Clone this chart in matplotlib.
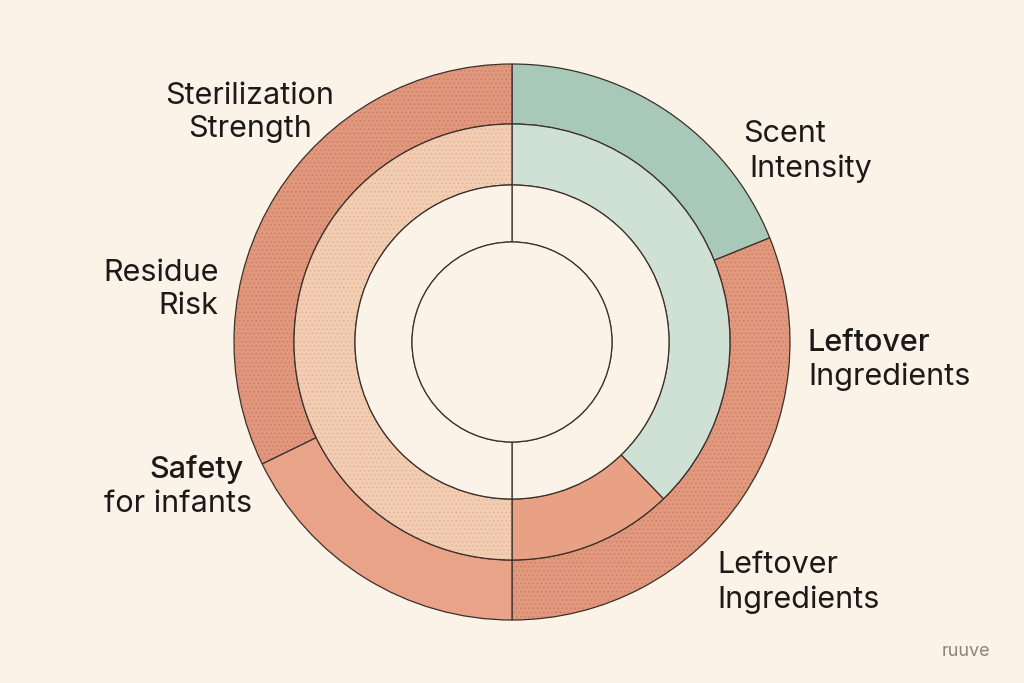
import matplotlib
matplotlib.use("Agg")
import matplotlib.pyplot as plt
from matplotlib.patches import Circle

# ---------------- data ----------------
outer_values = [68, 112, 64, 116]          # degrees, clockwise from 12 o'clock
outer_names = ["Scent Intensity", "Leftover Ingredients", "Safety for infants", "Sterilization Strength"]
middle_values = [136, 44, 180]
middle_names = ["Scent Intensity", "Leftover Ingredients", "Residue Risk"]
inner_values = [180, 180]

label_lines = ["Sterilization", "Strength", "Scent", "Intensity",
               "Residue", "Risk", "Leftover", "Ingredients",
               "Safety", "for infants", "Leftover", "Ingredients"]
label_weights = ["normal", "normal", "normal", "normal",
                 "normal", "normal", "medium", "normal",
                 "medium", "normal", "normal", "normal"]
watermark = "ruuve"

# ---------------- style / layout ----------------
BG = "#FBF3E8"
EDGE = "#3b302b"
outer_colors = ["#A8C8B8", "#E1987D", "#E9A388", "#E0977C"]
outer_stipple = [False, True, False, True]
middle_colors = ["#CFE1D5", "#E9A186", "#F2CDB2"]
middle_stipple = [False, False, True]

W, H = 1024, 683
cx, cy = 512, H - 342
R_out, R_mid, R_in, R_core = 278, 218, 157, 100

# (x_left, y_center) in pixel coords from top
label_pos = [(165, 96), (188, 129), (743, 134), (749, 169),
             (103, 273), (158, 306), (808, 343), (808, 377),
             (149, 469), (104, 504), (717, 565), (717, 600)]

plt.rcParams['font.family'] = ['Inter', 'DejaVu Sans']
plt.rcParams['hatch.linewidth'] = 0.5

fig = plt.figure(figsize=(W / 100, H / 100), dpi=100, facecolor=BG)
ax = fig.add_axes([0, 0, 1, 1])
ax.set_facecolor(BG)

def ring(values, colors, radius, width, stipple=None, stipple_color="#9a4a35"):
    wedges, _ = ax.pie(values, colors=colors, radius=radius, center=(cx, cy),
                       startangle=90, counterclock=False, frame=True,
                       wedgeprops=dict(width=width, edgecolor=EDGE, linewidth=0.9))
    if stipple is not None:
        sw, _ = ax.pie(values, colors=["none"] * len(values), radius=radius, center=(cx, cy),
                       startangle=90, counterclock=False, frame=True,
                       wedgeprops=dict(width=width, linewidth=0))
        for w, s in zip(sw, stipple):
            if s:
                w.set_hatch('....')
                w.set_edgecolor(stipple_color)
                w.set_alpha(0.22)
            else:
                w.set_visible(False)
    return wedges

ring(outer_values, outer_colors, R_out, R_out - R_mid, outer_stipple, "#7a3522")
ring(middle_values, middle_colors, R_mid, R_mid - R_in, middle_stipple, "#a86848")
ring(inner_values, [BG, BG], R_in, R_in - R_core)
ax.add_patch(Circle((cx, cy), R_core, facecolor=BG, edgecolor=EDGE, linewidth=0.9, zorder=5))

ax.set_xlim(0, W)
ax.set_ylim(0, H)
ax.set_aspect('equal')
ax.axis('off')

for txt, (x, y), wt in zip(label_lines, label_pos, label_weights):
    ax.text(x, H - y, txt, ha='left', va='center', fontsize=22,
            color="#1c1a19", fontweight=wt)

ax.text(942, H - 652, watermark, ha='left', va='center', fontsize=13, color="#8a847c")

fig.savefig("out.png", dpi=100, facecolor=BG)
